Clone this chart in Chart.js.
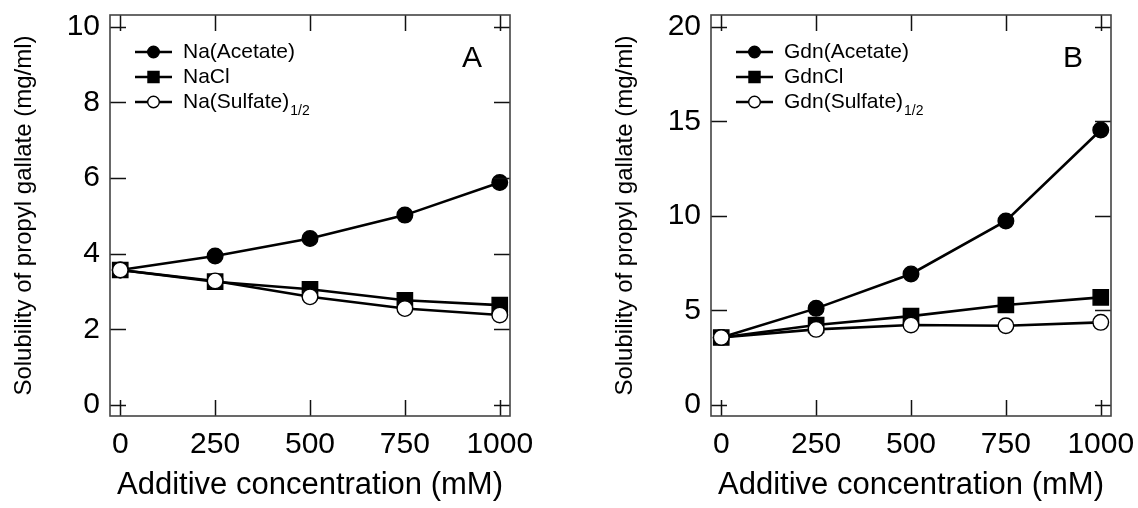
<!DOCTYPE html>
<html>
<head>
<meta charset="utf-8">
<script src="https://cdn.jsdelivr.net/npm/chart.js@4.4.1/dist/chart.umd.min.js"></script>
<style>
  body { margin: 0; background: #fff; }
  #wrap { position: relative; width: 1138px; height: 508px; overflow: hidden; }
  canvas { position: absolute; top: 0; }
</style>
</head>
<body>
<div id="wrap">
  <canvas id="chartA" width="569" height="508" style="left:0px"></canvas>
  <canvas id="chartB" width="537" height="508" style="left:601px"></canvas>
</div>
<script>
// data
let concentrations = [0, 250, 500, 750, 1000];
let xTicks = [0, 250, 500, 750, 1000];

let naAcetate = [3.57, 3.94, 4.40, 5.02, 5.88];
let naCl = [3.57, 3.26, 3.06, 2.77, 2.64];
let naSulfate = [3.57, 3.28, 2.86, 2.55, 2.38];
let yTicksA = [0, 2, 4, 6, 8, 10];
let namesA = ['Na(Acetate)', 'NaCl', 'Na(Sulfate)'];

let gdnAcetate = [3.57, 5.11, 6.93, 9.73, 14.54];
let gdnCl = [3.57, 4.23, 4.70, 5.29, 5.69];
let gdnSulfate = [3.57, 4.00, 4.23, 4.19, 4.37];
let yTicksB = [0, 5, 10, 15, 20];
let namesB = ['Gdn(Acetate)', 'GdnCl', 'Gdn(Sulfate)'];
let subs = ['', '', '1/2'];

const FONT = "'Liberation Sans', Arial, sans-serif";

// marker looks: filled circle, filled square, open circle
const marks = [
  { style: 'circle', r: 7.8, lr: 5.8, fill: '#000', order: 3 },
  { style: 'rect', r: 10.8, lr: 7.8, fill: '#000', order: 2 },
  { style: 'circle', r: 7.8, lr: 5.8, fill: '#fff', order: 1 }
];

// box + inward ticks on all four sides
const framePlugin = {
  id: 'frame',
  afterDatasetsDraw(chart) {
    const ctx = chart.ctx;
    const a = chart.chartArea;
    const xs = chart.scales.x, ys = chart.scales.y;
    const len = 16;
    ctx.save();
    ctx.strokeStyle = '#111';
    ctx.lineWidth = 1.5;
    ctx.beginPath();
    xs.ticks.forEach(t => {
      const px = Math.round(xs.getPixelForValue(t.value)) + 0.5;
      ctx.moveTo(px, a.bottom); ctx.lineTo(px, a.bottom - len);
      ctx.moveTo(px, a.top); ctx.lineTo(px, a.top + len);
    });
    ys.ticks.forEach(t => {
      const py = Math.round(ys.getPixelForValue(t.value)) + 0.5;
      ctx.moveTo(a.left, py); ctx.lineTo(a.left + len, py);
      ctx.moveTo(a.right, py); ctx.lineTo(a.right - len, py);
    });
    ctx.stroke();
    ctx.strokeStyle = '#444';
    ctx.lineWidth = 1.6;
    ctx.strokeRect(a.left, a.top, a.right - a.left, a.bottom - a.top);
    ctx.restore();
  }
};

// legend with line-through-marker, subscript and panel letter
const legendPlugin = {
  id: 'panelLegend',
  afterDraw(chart) {
    const opts = chart.options.plugins.panelLegend;
    const ctx = chart.ctx;
    const a = chart.chartArea;
    ctx.save();
    chart.data.datasets.forEach((ds, i) => {
      const y = a.top + 37 + i * 25;
      const x0 = a.left + 25, x1 = a.left + 62;
      ctx.strokeStyle = '#000';
      ctx.lineWidth = 2.6;
      ctx.beginPath();
      ctx.moveTo(x0, y); ctx.lineTo(x1, y);
      ctx.stroke();
      ctx.fillStyle = marks[i].fill;
      ctx.lineWidth = 1.4;
      Chart.helpers.drawPoint(ctx, { pointStyle: marks[i].style, radius: marks[i].lr, rotation: 0, borderWidth: 1.4 }, (x0 + x1) / 2, y);
      ctx.fillStyle = '#000';
      ctx.font = '21px ' + FONT;
      ctx.textBaseline = 'middle';
      ctx.textAlign = 'left';
      ctx.fillText(opts.names[i], a.left + 73, y);
      if (opts.subs[i]) {
        const w = ctx.measureText(opts.names[i]).width;
        ctx.font = '14px ' + FONT;
        ctx.fillText(opts.subs[i], a.left + 73 + w + 1, y + 9);
      }
    });
    ctx.font = '30px ' + FONT;
    ctx.textAlign = 'center';
    ctx.textBaseline = 'middle';
    ctx.fillStyle = '#000';
    ctx.fillText(opts.letter, a.right - 38, a.top + 44);
    ctx.restore();
  }
};

function makeChart(id, series, names, yTicks, yMin, yMax, letter, rightPad) {
  const datasets = series.map((vals, i) => ({
    label: names[i],
    data: vals,
    borderColor: '#000',
    borderWidth: 2.6,
    backgroundColor: marks[i].fill,
    pointStyle: marks[i].style,
    pointRadius: marks[i].r,
    pointHoverRadius: marks[i].r,
    pointBackgroundColor: marks[i].fill,
    pointBorderColor: '#000',
    pointBorderWidth: 1.4,
    order: marks[i].order,
    clip: false,
    tension: 0
  }));
  return new Chart(document.getElementById(id), {
    type: 'line',
    data: { labels: concentrations, datasets: datasets },
    options: {
      responsive: false,
      animation: false,
      layout: { padding: { top: 15, right: rightPad, bottom: 0, left: 0 } },
      plugins: {
        legend: { display: false },
        tooltip: { enabled: false },
        panelLegend: { names: names, subs: subs, letter: letter }
      },
      scales: {
        x: {
          type: 'linear',
          min: -27, max: 1027,
          afterBuildTicks: s => { s.ticks = xTicks.map(v => ({ value: v })); },
          afterFit: s => { s.height = 92; s.paddingLeft = 0; s.paddingRight = 0; },
          grid: { display: false, drawTicks: false },
          border: { display: false },
          ticks: {
            color: '#000', padding: 11, maxRotation: 0,
            font: { family: FONT, size: 30 },
            callback: v => String(v)
          },
          title: {
            display: true, text: 'Additive concentration (mM)', color: '#000',
            font: { family: FONT, size: 31 }, padding: { top: 0, bottom: 4 }
          }
        },
        y: {
          min: yMin, max: yMax,
          afterBuildTicks: s => { s.ticks = yTicks.map(v => ({ value: v })); },
          afterFit: s => { s.width = 110; s.paddingTop = 0; s.paddingBottom = 0; },
          grid: { display: false, drawTicks: false },
          border: { display: false },
          ticks: {
            color: '#000', padding: 10,
            font: { family: FONT, size: 30 },
            callback: v => String(v)
          },
          title: {
            display: true, text: 'Solubility of propyl gallate (mg/ml)', color: '#000',
            font: { family: FONT, size: 24 }, padding: { top: 9.5, bottom: 0 }
          }
        }
      }
    },
    plugins: [framePlugin, legendPlugin]
  });
}

makeChart('chartA', [naAcetate, naCl, naSulfate], namesA, yTicksA, -0.29, 10.31, 'A', 59);
makeChart('chartB', [gdnAcetate, gdnCl, gdnSulfate], namesB, yTicksB, -0.58, 20.62, 'B', 27);
</script>
</body>
</html>
